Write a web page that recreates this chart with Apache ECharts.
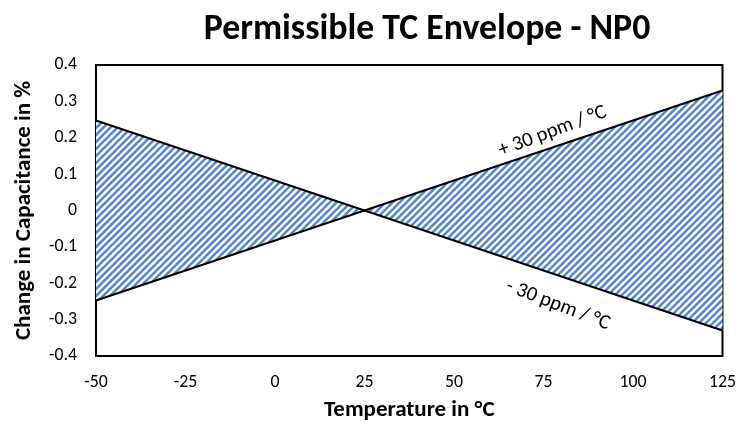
<!DOCTYPE html>
<html><head><meta charset="utf-8">
<script src="https://cdn.jsdelivr.net/npm/echarts@6/dist/echarts.min.js"></script>
<style>html,body{margin:0;padding:0;background:#fff}#c{width:739px;height:427px}</style>
</head><body><div id="c"></div>
<script>
// Data
const temps = [-50, 25, 125];
const plus30 = [-0.2475, 0, 0.33];
const minus30 = [0.2475, 0, -0.33];
const xTicks = [-50, -25, 0, 25, 50, 75, 100, 125];
const yTicks = [-0.4, -0.3, -0.2, -0.1, 0, 0.1, 0.2, 0.3, 0.4];
const titleText = 'Permissible TC Envelope - NP0';
const xName = 'Temperature in °C';
const yName = 'Change in Capacitance in %';
const labelTexts = ['+ 30 ppm / °C', '- 30 ppm / °C'];
const labelAnchors = [[77.5, 0.217], [79, -0.26]];
const labelAngles = [20.5, -21];

const FONT = 'Carlito, Lato, "Open Sans", sans-serif';

// pick font sizes so text widths match the reference
const mc = document.createElement('canvas').getContext('2d');
function fit(text, weight, target) {
  mc.font = weight + ' 100px ' + FONT;
  return Math.round(100 * target / mc.measureText(text).width * 10) / 10;
}
const titleSize = fit(titleText, 'bold', 446);
const xNameSize = fit(xName, 'bold', 171);
const yNameSize = fit(yName, 'bold', 259);
const tickSize = fit('125', 'normal', 27);
const labelSize = fit(labelTexts[0], 'normal', 114);

// hatch pattern (upward diagonal stripes)
const P = 7;
const pc = document.createElement('canvas');
pc.width = P; pc.height = P;
const g = pc.getContext('2d');
g.fillStyle = '#fff'; g.fillRect(0, 0, P, P);
g.strokeStyle = '#5687c6'; g.lineWidth = 2.6;
for (const c of [0, P, 2 * P]) { g.beginPath(); g.moveTo(c - P - 1, P + 1); g.lineTo(c + 1, -1); g.stroke(); }

const segments = temps.slice(0, -1).map((t, i) => [i]);

const chart = echarts.init(document.getElementById('c'), null, {renderer: 'canvas'});
chart.setOption({
  animation: false,
  title: {text: titleText, left: 422, textAlign: 'center', top: Math.round(25 - titleSize / 2),
    textStyle: {fontFamily: FONT, fontWeight: 'bold', fontSize: titleSize, color: '#000'}},
  grid: {left: 96, right: 15, top: 65, bottom: 71, show: true, borderColor: '#000', borderWidth: 2, backgroundColor: 'transparent'},
  xAxis: {type: 'value', min: xTicks[0], max: xTicks[xTicks.length-1], interval: 25,
    name: xName, nameLocation: 'middle', nameGap: 43,
    nameTextStyle: {fontFamily: FONT, fontWeight: 'bold', fontSize: xNameSize, color: '#000'},
    axisLine: {show: false}, axisTick: {show: false}, splitLine: {show: false},
    axisLabel: {fontFamily: FONT, fontSize: tickSize, color: '#000', margin: 18}},
  yAxis: {type: 'value', min: yTicks[0], max: yTicks[yTicks.length-1], interval: 0.1,
    name: yName, nameLocation: 'middle', nameGap: Math.round(96 - 25 - yNameSize / 2),
    nameTextStyle: {fontFamily: FONT, fontWeight: 'bold', fontSize: yNameSize, color: '#000'},
    axisLine: {show: false}, axisTick: {show: false}, splitLine: {show: false},
    axisLabel: {fontFamily: FONT, fontSize: tickSize, color: '#000', margin: 19,
      formatter: v => String(Math.round(v * 10) / 10)}},
  series: [
    {type: 'custom', data: segments, silent: true, clip: true,
      renderItem: (params, api) => {
        const i = api.value(0);
        const pts = [
          api.coord([temps[i], plus30[i]]), api.coord([temps[i+1], plus30[i+1]]),
          api.coord([temps[i+1], minus30[i+1]]), api.coord([temps[i], minus30[i]])
        ];
        return {type: 'polygon', shape: {points: pts}, style: {fill: {image: pc, repeat: 'repeat'}, stroke: null}};
      }},
    {type: 'line', data: temps.map((t, i) => [t, plus30[i]]), symbol: 'none', lineStyle: {color: '#000', width: 2}, z: 3},
    {type: 'line', data: temps.map((t, i) => [t, minus30[i]]), symbol: 'none', lineStyle: {color: '#000', width: 2}, z: 3},
    {type: 'custom', data: labelAnchors.map((a, i) => [a[0], a[1], i]), silent: true, z: 4,
      renderItem: (params, api) => {
        const p = api.coord([api.value(0), api.value(1)]);
        const k = api.value(2);
        return {type: 'text', x: p[0], y: p[1], rotation: labelAngles[k] * Math.PI / 180,
          style: {text: labelTexts[k], fontFamily: FONT, fontSize: labelSize, fill: '#000', align: 'center', verticalAlign: 'middle'}};
      }}
  ]
});
</script></body></html>
